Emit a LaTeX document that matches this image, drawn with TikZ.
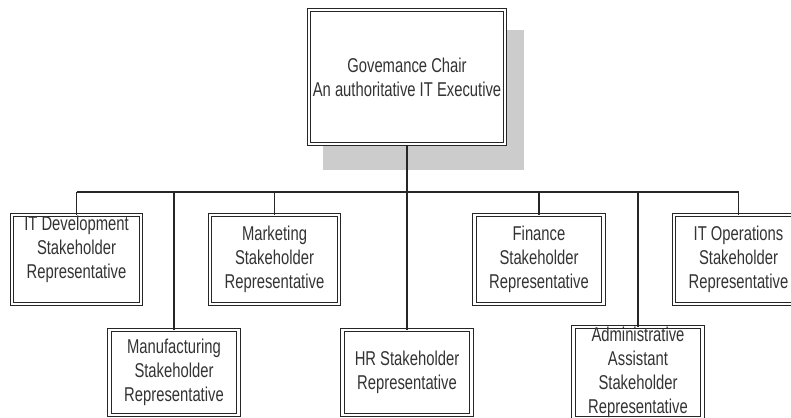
\documentclass[tikz,border=0pt]{standalone}
\usepackage{fontspec}
\setmainfont{Liberation Sans}[FakeStretch=0.74]
\usetikzlibrary{positioning,backgrounds}

\newcommand{\orgfont}{\fontsize{15}{18}\selectfont}
\definecolor{shadowgray}{gray}{0.8}

\tikzset{
  orgbox/.style={draw=black!85, double=white, double distance=1.6pt, line width=0.75pt,
    fill=white, inner sep=0pt, align=center, font=\orgfont, text=black!80},
  upperbox/.style={orgbox, minimum width=96.75pt, minimum height=66.75pt},
  lowerbox/.style={orgbox, minimum width=96.75pt, minimum height=63.75pt},
  link/.style={black!85, line width=0.9pt}
}

\begin{document}
\begin{tikzpicture}[x=0.75pt, y=-0.75pt]
\useasboundingbox (0,0) rectangle (791,417);

% Chair
\node[orgbox, minimum width=147pt, minimum height=100.5pt] (chair) at (407,77)
  {Govemance Chair\\An authoritative IT Executive};

% Upper row
\node[upperbox] (itdev) at (76.5,259.5) {IT Development\\Stakeholder\\Representative\\\mbox{}};
\node[upperbox] (marketing) at (274.5,259.5) {Marketing\\Stakeholder\\Representative};
\node[upperbox] (finance) at (539,259.5) {Finance\\Stakeholder\\Representative};
\node[upperbox] (itops) at (738.5,259.5) {IT Operations\\Stakeholder\\Representative};

% Lower row
\node[lowerbox] (manufacturing) at (174,372.5) {Manufacturing\\Stakeholder\\Representative};
\node[lowerbox] (hr) at (407,372.5) {HR Stakeholder\\Representative};
\node[lowerbox] (admin) at (638,372.5) {Administrative\\Assistant\\Stakeholder\\Representative};

% Shadow behind the chair
\begin{scope}[on background layer]
\fill[shadowgray] ([shift={(14,25)}]chair.south west) rectangle ([shift={(18,21)}]chair.north east);
\end{scope}

% Bus and drops
\coordinate (busL) at (itdev.north |- 0,192);
\coordinate (busR) at (itops.north |- 0,192);
\draw[link] (busL) -- (busR);
\draw[link] (chair.south) -- (chair.south |- busL);
\foreach \n in {itdev,marketing,finance,itops,manufacturing,hr,admin}
  \draw[link] (\n.north) -- (\n.north |- busL);
\end{tikzpicture}
\end{document}
